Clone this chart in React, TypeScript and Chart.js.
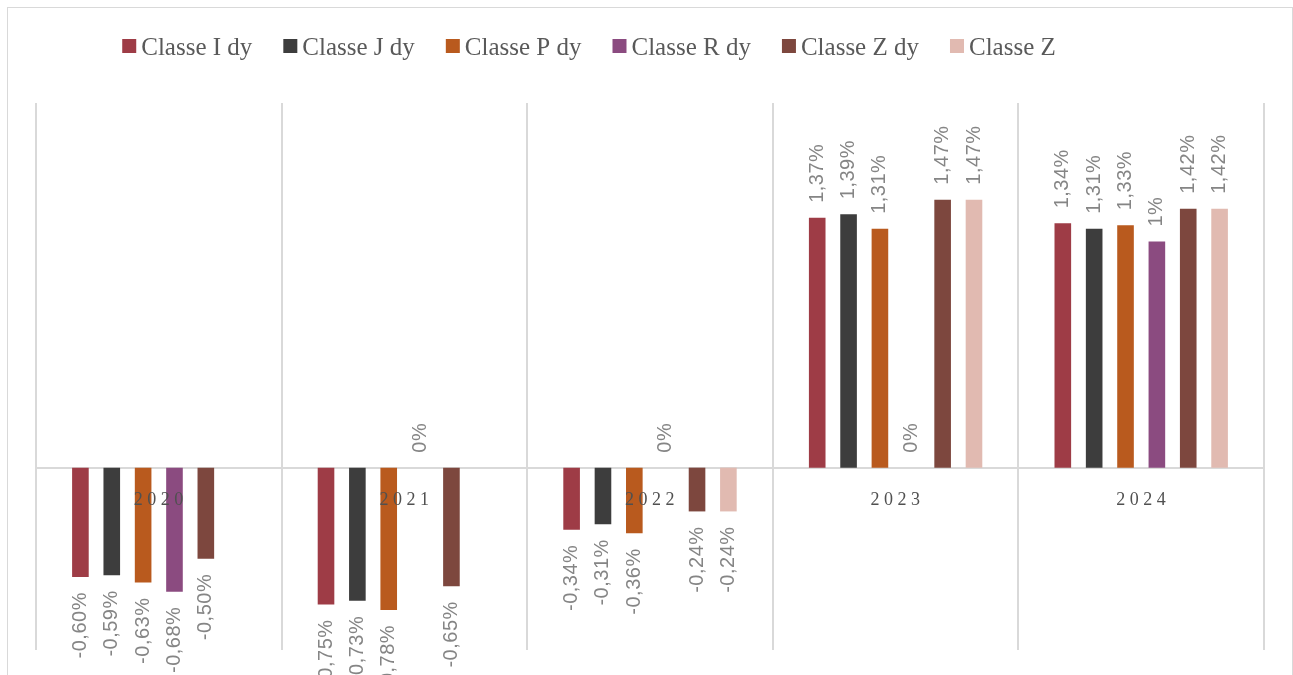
import React, { useEffect, useRef } from "react";
import { Chart, registerables } from "chart.js";

Chart.register(...registerables);

const categories = ["2020", "2021", "2022", "2023", "2024"];
const seriesNames = ["Classe I dy", "Classe J dy", "Classe P dy", "Classe R dy", "Classe Z dy", "Classe Z"];
const classeIdy = [-0.6, -0.75, -0.34, 1.37, 1.34];
const classeJdy = [-0.59, -0.73, -0.31, 1.39, 1.31];
const classePdy = [-0.63, -0.78, -0.36, 1.31, 1.33];
const classeRdy = [-0.68, 0, 0, 0, 1.24];
const classeZdy = [-0.5, -0.65, -0.24, 1.47, 1.42];
const classeZ = [null, null, -0.24, 1.47, 1.42];
const classeRdyDecimals = [2, 0, 0, 0, 0];
const seriesColors = ["#9e3c46", "#3d3d3d", "#b95a1e", "#8b4b80", "#7d473e", "#e1bab1"];

const seriesValues = [classeIdy, classeJdy, classePdy, classeRdy, classeZdy, classeZ];

function formatLabel(v: number, decimals: number) {
  if (v === 0) return "0%";
  return v.toFixed(decimals).replace(".", ",") + "%";
}

const labelPlugin = {
  id: "customLabels",
  afterDatasetsDraw(chart: any) {
    const ctx = chart.ctx;
    ctx.save();
    ctx.font = '20px "Liberation Sans"';
    ctx.fillStyle = "#858585";
    ctx.textBaseline = "middle";
    (ctx as any).letterSpacing = "0.5px";
    chart.data.datasets.forEach((ds: any, i: number) => {
      const meta = chart.getDatasetMeta(i);
      meta.data.forEach((el: any, j: number) => {
        const v = ds.data[j];
        if (v === null || v === undefined) return;
        const dec = i === 3 ? classeRdyDecimals[j] : 2;
        const txt = formatLabel(v, dec);
        ctx.save();
        if (v >= 0) {
          ctx.translate(el.x, el.y - 15);
          ctx.rotate(-Math.PI / 2);
          ctx.textAlign = "left";
        } else {
          ctx.translate(el.x, el.y + 15);
          ctx.rotate(-Math.PI / 2);
          ctx.textAlign = "right";
        }
        ctx.fillText(txt, 0, 0);
        ctx.restore();
      });
    });
    ctx.restore();
  },
  afterDraw(chart: any) {
    const ctx = chart.ctx;
    const xs = chart.scales.x;
    const ys = chart.scales.y;
    const zeroY = ys.getPixelForValue(0);
    // category labels
    ctx.save();
    ctx.font = '18px "Liberation Serif"';
    ctx.fillStyle = "#505050";
    ctx.textAlign = "center";
    ctx.textBaseline = "middle";
    (ctx as any).letterSpacing = "4.5px";
    categories.forEach((c, i) => {
      const x = xs.getPixelForTick(i);
      ctx.fillText(c, x + 2, zeroY + 33);
    });
    ctx.restore();
    // legend
    ctx.save();
    ctx.font = '25px "Liberation Serif"';
    ctx.textBaseline = "alphabetic";
    ctx.textAlign = "left";
    const box = 14;
    const gapText = 5;
    const gapItem = 31;
    const widths = seriesNames.map((n) => ctx.measureText(n).width);
    const total = widths.reduce((a, w) => a + box + gapText + w, 0) + gapItem * (seriesNames.length - 1);
    let x = 589 - total / 2;
    seriesNames.forEach((n, i) => {
      ctx.fillStyle = seriesColors[i];
      ctx.fillRect(x, 39, box, box);
      ctx.fillStyle = "#595959";
      ctx.fillText(n, x + box + gapText, 55);
      x += box + gapText + widths[i] + gapItem;
    });
    ctx.restore();
  },
};

export default function App() {
  const ref = useRef<HTMLCanvasElement>(null);
  useEffect(() => {
    if (!ref.current) return;
    const chart = new Chart(ref.current, {
      type: "bar",
      data: {
        labels: categories,
        datasets: seriesNames.map((name, i) => ({
          label: name,
          data: seriesValues[i] as any,
          backgroundColor: seriesColors[i],
          borderWidth: 0,
          categoryPercentage: 0.766,
          barPercentage: 0.53,
        })),
      },
      options: {
        responsive: false,
        animation: false,
        devicePixelRatio: 1,
        layout: { padding: { left: 36, right: 29, top: 103, bottom: 25 } },
        plugins: { legend: { display: false }, tooltip: { enabled: false } },
        scales: {
          x: {
            type: "category",
            position: { y: 0 } as any,
            grid: { color: "#d9d9d9", lineWidth: 2, offset: true, drawTicks: false },
            border: { color: "#d9d9d9", width: 2 },
            ticks: { display: false },
          },
          y: {
            min: -1,
            max: 2,
            display: false,
          },
        },
      },
      plugins: [labelPlugin],
    });
    return () => chart.destroy();
  }, []);
  return (
    <div style={{ position: "absolute", left: 0, top: 0, width: 1293, height: 675, overflow: "hidden", background: "#fff" }}>
      <div
        style={{
          position: "absolute",
          left: 7,
          top: 7,
          width: 1286,
          height: 700,
          boxSizing: "border-box",
          border: "1px solid #d9d9d9",
        }}
      />
      <canvas ref={ref} width={1293} height={675} style={{ position: "absolute", left: 0, top: 0, display: "block" }} />
    </div>
  );
}
